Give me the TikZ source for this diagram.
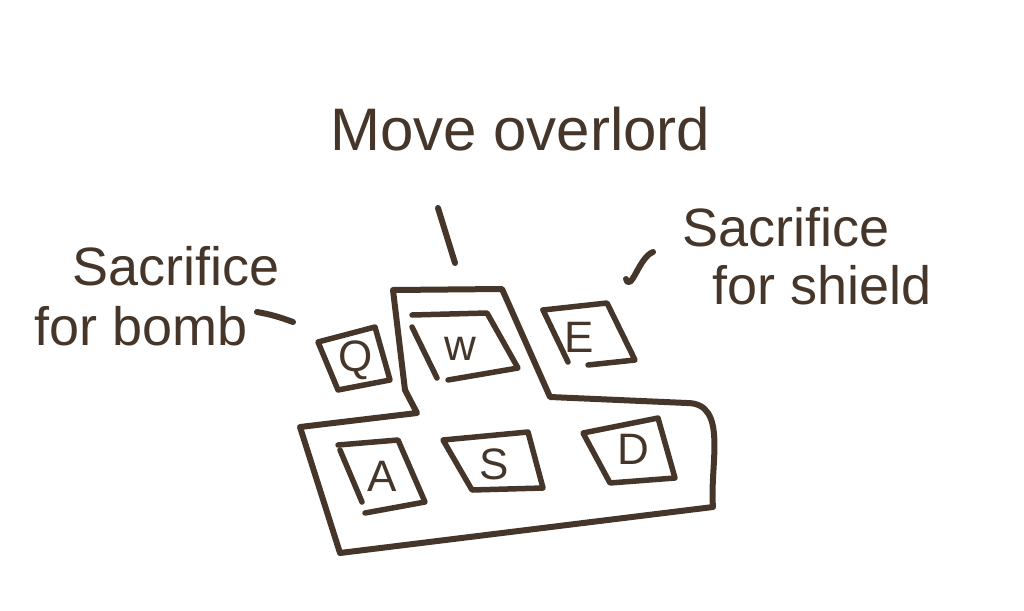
\documentclass[tikz,border=0pt]{standalone}
\usepackage{fontspec}
\setmainfont{Liberation Sans}
\definecolor{ink}{HTML}{463629}
\begin{document}
\begin{tikzpicture}[x=1pt,y=-1pt,
  pen/.style={draw=ink,line width=6pt,line join=round,line cap=round},
  keycap/.style={draw=ink,line width=5.5pt,line join=round,line cap=round},
  label/.style={text=ink,inner sep=0pt,font=\fontsize{54}{60}\selectfont},
  title/.style={text=ink,inner sep=0pt,font=\fontsize{60}{66}\selectfont},
  keylbl/.style={text=ink,inner sep=0pt,font=\fontsize{44}{48}\selectfont}]
\useasboundingbox (0,0) rectangle (1024,610);
% outer keyboard outline
\draw[pen] (393,290) -- (502,289) -- (550,397) -- (687,403)
  to[out=0,in=95] (713,507) -- (340,553) -- (300,427) -- (417,413)
  -- (405,390) -- cycle;
% keys
\draw[keycap] (318,342) -- (375,327) -- (390,380) -- (338,390) -- cycle;
\draw[keycap] (412,315) -- (487,313) -- (518,368) -- (448,380);
\draw[keycap] (412,327) -- (437,378);
\draw[keycap] (543,310) -- (607,303) -- (635,360) -- (588,365);
\draw[keycap] (543,310) -- (568,362);
\draw[keycap] (338,445) -- (398,440) -- (425,502) -- (365,513);
\draw[keycap] (340,450) -- (362,502);
\draw[keycap] (443,440) -- (528,432) -- (543,488) -- (472,490) -- cycle;
\draw[keycap] (583,433) -- (658,418) -- (675,478) -- (610,483) -- cycle;
% key letters
\node[keylbl] (q) at (356,360) {Q};
\node[keylbl] (w) at (460,349) {w};
\node[keylbl] (e) at (579,337) {E};
\node[keylbl] (a) at (382,476) {A};
\node[keylbl] (s) at (494,464) {S};
\node[keylbl] (d) at (633,449) {D};
% labels
\node[title,anchor=base west] (move) at (330,150) {Move overlord};
\node[label,anchor=base west] (bombA) at (72,285) {Sacrifice};
\node[label,anchor=base west] (bombB) at (34,345) {for bomb};
\node[label,anchor=base west] (shieldA) at (682,246) {Sacrifice};
\node[label,anchor=base west] (shieldB) at (712,304) {for shield};
% short leader strokes
\coordinate (m1) at (438,208); \coordinate (m2) at (455,263);
\draw[pen] (m1) -- (m2);
\coordinate (b1) at (257,312); \coordinate (b2) at (293,322);
\draw[pen] (b1) to[out=-10,in=160] (b2);
\coordinate (s1) at (626,279); \coordinate (s2) at (653,252);
\draw[pen] (s1) to[out=-70,in=200] (s2);
\end{tikzpicture}
\end{document}
